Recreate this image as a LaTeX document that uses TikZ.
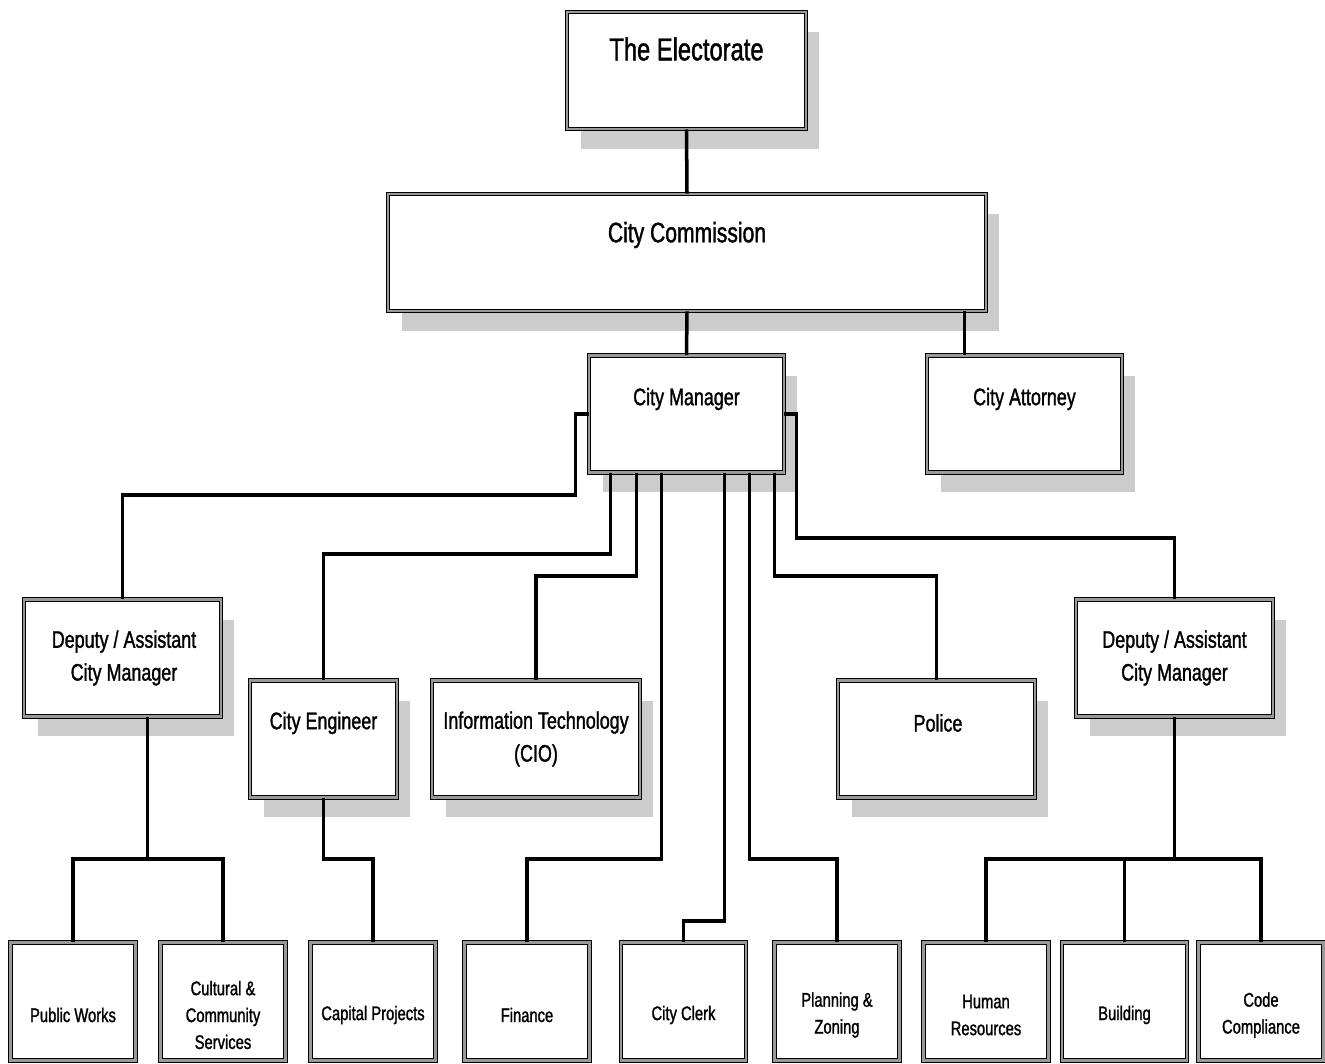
\documentclass[tikz,border=0pt]{standalone}
\usepackage{fontspec}
\setmainfont{Liberation Sans}[FakeStretch=0.75,FakeBold=1.3]
\usetikzlibrary{calc}
\usetikzlibrary{shadows}

\begin{document}
\begin{tikzpicture}[line join=miter,x=0.02cm,y=-0.02cm,
  box/.style={draw=black,double=black!40,double distance=1.5pt,line width=0.55pt,fill=white,minimum height=2.34cm,inner sep=0pt},
  shbox/.style={box,drop shadow={shadow xshift=0.27cm,shadow yshift=-0.4cm,fill=black!20,opacity=1}},
  leaf/.style={box,minimum width=2.5cm,minimum height=2.36cm},
  lbl/.style={align=center,inner sep=0pt,font=\fontsize{13.6}{18.7}\selectfont},
  leaflbl/.style={lbl,font=\fontsize{11.2}{15.3}\selectfont},
  wire/.style={line width=2pt,line cap=butt}]
\clip (0,0) rectangle (1325,1064);
\node[shbox,minimum width=4.78cm] (elect) at (686.5,70.5) {};
\node[shbox,minimum width=11.96cm] (comm) at (687,252.5) {};
\node[shbox,minimum width=3.9cm] (mgr) at (686.5,414) {};
\node[shbox,minimum width=3.9cm] (atty) at (1024.5,414) {};
\node[shbox,minimum width=3.94cm] (depL) at (122.5,658) {};
\node[shbox,minimum width=2.94cm] (eng) at (323.5,739) {};
\node[shbox,minimum width=4.16cm] (it) at (536,739) {};
\node[shbox,minimum width=3.94cm] (police) at (936.5,739) {};
\node[shbox,minimum width=3.94cm] (depR) at (1174.5,658) {};
\node[leaf] (pw) at (73,1001.5) {};
\node[leaf] (cult) at (223,1001.5) {};
\node[leaf] (cap) at (373,1001.5) {};
\node[leaf] (fin) at (527,1001.5) {};
\node[leaf] (clerk) at (683.5,1001.5) {};
\node[leaf] (plan) at (837,1001.5) {};
\node[leaf] (hr) at (986,1001.5) {};
\node[leaf] (bld) at (1124.5,1001.5) {};
\node[leaf] (code) at (1261,1001.5) {};

\node[lbl,font=\fontsize{18}{22}\selectfont] (elect-t) at (686.5,49) {The Electorate};
\node[lbl,font=\fontsize{16}{20}\selectfont] (comm-t) at (687,235) {City Commission};
\node[lbl] (mgr-t) at (686.5,399) {City Manager};
\node[lbl] (atty-t) at (1024.5,399) {City Attorney};
\node[lbl] (depL-t) at (124,658) {Deputy / Assistant\\City Manager};
\node[lbl] (eng-t) at (323.5,723) {City Engineer};
\node[lbl] (it-t) at (536,739) {Information Technology\\(CIO)};
\node[lbl] (police-t) at (938,723) {Police};
\node[lbl] (depR-t) at (1174.5,658) {Deputy / Assistant\\City Manager};
\node[leaflbl] (pw-t) at (73,1015) {Public Works};
\node[leaflbl] (cult-t) at (223,1015) {Cultural \&\\Community\\Services};
\node[leaflbl] (cap-t) at (373,1015) {Capital Projects};
\node[leaflbl] (fin-t) at (527,1015) {Finance};
\node[leaflbl] (clerk-t) at (683.5,1015) {City Clerk};
\node[leaflbl] (plan-t) at (837,1015) {Planning \&\\Zoning};
\node[leaflbl] (hr-t) at (986,1015) {Human\\Resources};
\node[leaflbl] (bld-t) at (1124.5,1015) {Building};
\node[leaflbl] (code-t) at (1261,1015) {Code\\Compliance};

\draw[wire] (elect.south) -- (comm.north);
\draw[wire] (comm.south) -- (mgr.north);
\coordinate (attyIn) at ($(atty.north west)+(38,0)$);
\draw[wire] (attyIn |- comm.south) -- (attyIn);
\draw[wire] (mgr.west) -- ++(-13,0) -- ++(0,81) -| (depL.north);
\draw[wire] (mgr.east) -- ++(12,0) -- ++(0,124) -| (depR.north);
\draw[wire] ($(mgr.south)+(-76,0)$) -- ++(0,81) -| (eng.north);
\draw[wire] ($(mgr.south)+(-50,0)$) -- ++(0,103) -| (it.north);
\draw[wire] ($(mgr.south)+(-25,0)$) -- ++(0,386) -| (fin.north);
\draw[wire] ($(mgr.south)+(38,0)$) -- ++(0,448) -| (clerk.north);
\draw[wire] ($(mgr.south)+(63,0)$) -- ++(0,386) -| (plan.north);
\draw[wire] ($(mgr.south)+(88,0)$) -- ++(0,103) -| (police.north);
\draw[wire] ($(depL.south)+(25,0)$) -- ++(0,142) coordinate (jL);
\draw[wire] (pw.north) |- (jL) -| (cult.north);
\draw[wire] (eng.south) -- ++(0,61) -| (cap.north);
\draw[wire] (depR.south) -- ++(0,142) coordinate (jR);
\draw[wire] (hr.north) |- (jR) -| (code.north);
\draw[wire] (bld.north) -- (bld.north |- jR);
\end{tikzpicture}
\end{document}
